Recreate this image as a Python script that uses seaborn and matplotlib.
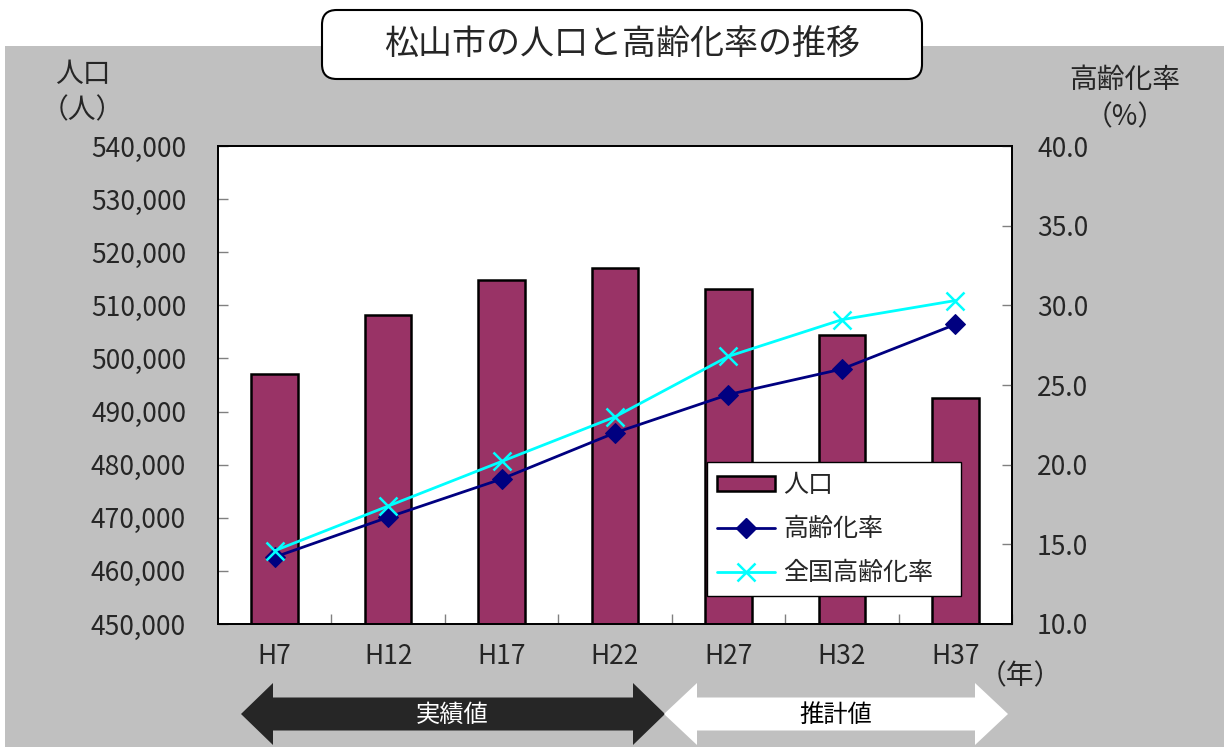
import numpy as np
import pandas as pd
import matplotlib
matplotlib.use("Agg")
import matplotlib.pyplot as plt
import seaborn as sns
from matplotlib.patches import Patch, FancyBboxPatch, Rectangle, Polygon
from matplotlib.lines import Line2D
from matplotlib.ticker import FuncFormatter, FixedLocator

# ---- data ----
years = ["H7", "H12", "H17", "H22", "H27", "H32", "H37"]
population = [497100, 508100, 514800, 517100, 513100, 504400, 492500]
aging_rate = [14.2, 16.7, 19.1, 22.0, 24.4, 26.0, 28.8]
national_rate = [14.6, 17.4, 20.2, 23.0, 26.8, 29.1, 30.3]
left_ticks = [450000, 460000, 470000, 480000, 490000, 500000, 510000, 520000, 530000, 540000]
right_ticks = [10.0, 15.0, 20.0, 25.0, 30.0, 35.0, 40.0]

df = pd.DataFrame({"year": years, "pop": population,
                   "rate": aging_rate, "nat": national_rate})
df["pos"] = np.arange(len(years))

sns.set_theme(style="white")
plt.rcParams['font.family'] = ['Noto Sans CJK JP', 'DejaVu Sans']

W, H = 1224, 747
fig = plt.figure(figsize=(W / 100, H / 100), dpi=100)
fig.patch.set_facecolor("white")

def fx(px):
    return px / W

def fy(py):
    return 1 - py / H

# grey background
fig.patches.append(Rectangle((fx(5), 0), 1 - fx(5), fy(46), transform=fig.transFigure,
                             facecolor="#C0C0C0", edgecolor="none", zorder=-10))

ax = fig.add_axes([fx(218), fy(624), fx(1012) - fx(218), fy(146) - fy(624)])
ax.set_zorder(1)
ax.set_facecolor("white")

sns.barplot(data=df, x="year", y="pop", ax=ax, color="#993366", saturation=1,
            edgecolor="black", linewidth=1.8, width=0.41, zorder=2)
ax.set_ylim(left_ticks[0], left_ticks[-1])
ax.set_xlim(-0.5, len(years) - 0.5)
ax.yaxis.set_major_locator(FixedLocator(left_ticks))
ax.yaxis.set_major_formatter(FuncFormatter(lambda v, p: f"{int(v):,}"))
ax.set_xlabel("")
ax.set_ylabel("")
ax.tick_params(axis="y", direction="in", length=7, color="#808080", width=1,
               labelsize=19, pad=23, left=True)
ax.tick_params(axis="x", which="major", length=0, labelsize=19, pad=14)
ax.set_xticks(np.arange(len(years)) + 0.5, minor=True)
ax.tick_params(axis="x", which="minor", direction="in", length=7, color="#808080",
               width=1, bottom=True)
for s in ax.spines.values():
    s.set_color("black")
    s.set_linewidth(1.3)

ax2 = ax.twinx()
ax2.set_zorder(2)
ax2.set_facecolor("none")
sns.lineplot(data=df, x="pos", y="rate", ax=ax2, color="#000080", linewidth=2,
             marker="D", markersize=10, markeredgecolor="#000080", zorder=3)
sns.lineplot(data=df, x="pos", y="nat", ax=ax2, color="#00FFFF", linewidth=2,
             marker="x", markersize=13, markeredgewidth=1.8,
             markeredgecolor="#00FFFF", zorder=4)
ax2.set_ylim(right_ticks[0], right_ticks[-1])
ax2.set_xlim(-0.5, len(years) - 0.5)
ax2.yaxis.set_major_locator(FixedLocator(right_ticks))
ax2.yaxis.set_major_formatter(FuncFormatter(lambda v, p: f"{v:.1f}"))
ax2.set_xlabel("")
ax2.set_ylabel("")
ax2.tick_params(axis="y", direction="in", length=7, color="#808080", width=1,
                labelsize=19, pad=18, right=True)
for s in ax2.spines.values():
    s.set_color("black")
    s.set_linewidth(1.3)

handles = [Patch(facecolor="#993366", edgecolor="black", linewidth=1.8),
           Line2D([], [], color="#000080", linewidth=2, marker="D", markersize=10),
           Line2D([], [], color="#00FFFF", linewidth=2, marker="x", markersize=13,
                  markeredgewidth=1.8)]
labels = ["人口", "高齢化率", "全国高齢化率"]
leg = ax2.legend(handles, labels, loc="upper left", mode="expand",
                 bbox_to_anchor=(0.616, 0.061, 0.320, 0.278), borderaxespad=0,
                 fontsize=18, frameon=True, fancybox=False, framealpha=1,
                 edgecolor="black", labelspacing=0.72, borderpad=0.4,
                 handlelength=2.3, handletextpad=0.35, handleheight=0.55)
leg.get_frame().set_linewidth(1.0)
leg.set_zorder(10)

# title box
fig.patches.append(FancyBboxPatch((fx(322), fy(79)), fx(922) - fx(322), fy(10) - fy(79),
                                  boxstyle="round,pad=0,rounding_size=0.012",
                                  transform=fig.transFigure, facecolor="white",
                                  edgecolor="black", linewidth=1.5, zorder=5,
                                  mutation_aspect=W / H))
fig.text(fx(622), fy(45), "松山市の人口と高齢化率の推移", ha="center", va="center",
         fontsize=24.5, zorder=6)

# axis titles
fig.text(fx(83), fy(74), "人口", ha="center", va="center", fontsize=20)
fig.text(fx(82), fy(110), "（人）", ha="center", va="center", fontsize=20)
fig.text(fx(1125), fy(80), "高齢化率", ha="center", va="center", fontsize=20)
fig.text(fx(1125), fy(117), "（%）", ha="center", va="center", fontsize=20)
fig.text(fx(1020), fy(676), "（年）", ha="center", va="center", fontsize=20)

# arrows
def double_arrow(x0, x1, yc, head_len, head_half, shaft_half, color):
    pts = [(x0, yc), (x0 + head_len, yc - head_half), (x0 + head_len, yc - shaft_half),
           (x1 - head_len, yc - shaft_half), (x1 - head_len, yc - head_half), (x1, yc),
           (x1 - head_len, yc + head_half), (x1 - head_len, yc + shaft_half),
           (x0 + head_len, yc + shaft_half), (x0 + head_len, yc + head_half)]
    pts = [(fx(a), fy(b)) for a, b in pts]
    fig.patches.append(Polygon(pts, closed=True, transform=fig.transFigure,
                               facecolor=color, edgecolor="none", zorder=3))

double_arrow(241, 665, 714, 32, 31, 16.5, "#262626")
double_arrow(664, 1008, 714, 33, 31, 16.5, "white")
fig.text(fx(452), fy(715), "実績値", ha="center", va="center", fontsize=17.5,
         color="white", zorder=6)
fig.text(fx(836), fy(715), "推計値", ha="center", va="center", fontsize=17.5,
         color="black", zorder=6)

fig.savefig("out.png", dpi=100, facecolor=fig.get_facecolor())
